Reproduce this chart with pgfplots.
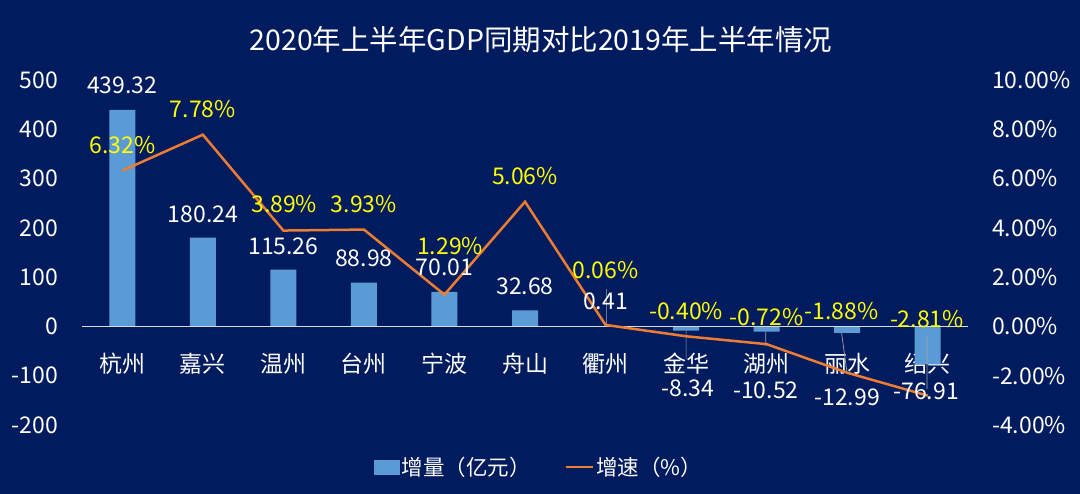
\documentclass[border=0pt]{standalone}
\usepackage{pgfplots}
\pgfplotsset{compat=1.18}
\usepackage{fontspec}
\setmainfont{Noto Sans CJK SC}
\definecolor{bg}{HTML}{001B5E}
\definecolor{barblue}{HTML}{5B9BD5}
\definecolor{lineorange}{HTML}{ED7D31}
\definecolor{lblyellow}{HTML}{FFFF00}
\definecolor{leader}{HTML}{A6A6A6}
\definecolor{zeroline}{HTML}{D9D9D9}
\newcommand{\numfont}{\fontsize{23bp}{27bp}\selectfont}

\pgfplotsset{
  frame/.style={
    at={(82bp,69bp)}, anchor=south west,
    width=886bp, height=345bp, scale only axis,
    xmin=-0.5, xmax=10.5,
    axis line style={draw=none},
    major tick length=0pt,
    tick style={draw=none},
    ticklabel style={font=\numfont, text=white},
  },
}

\begin{document}
\begin{tikzpicture}[x=1bp,y=1bp]
\fill[bg] (0,0) rectangle (1080,494);
\node[text=white, font=\fontsize{28.5bp}{32bp}\selectfont] at (541,454)
  {2020年上半年GDP同期对比2019年上半年情况};

% 增量（亿元）, left axis
\begin{axis}[frame,
  ymin=-200, ymax=500,
  xtick={0,...,10},
  xticklabels={杭州,嘉兴,温州,台州,宁波,舟山,衢州,金华,湖州,丽水,绍兴},
  xticklabel style={anchor=center, yshift=61bp},
  ytick={-200,-100,0,100,200,300,400,500},
  yticklabels={-200,-100,0,100,200,300,400,500},
  yticklabel style={anchor=east, inner sep=0pt, xshift=-24bp},
  unbounded coords=jump,
]
\addplot[ybar, bar width=26bp, fill=barblue, draw=none] coordinates {
  (0,439.32) (1,180.24) (2,115.26) (3,88.98) (4,70.01) (5,32.68)
  (6,0.41) (7,-8.34) (8,-10.52) (9,-12.99) (10,-76.91)};
\addplot[zeroline, line width=1bp] coordinates {(-0.5,0) (10.5,0)};
% leader lines of moved labels
\addplot[leader, line width=0.7bp] coordinates {
  (6.01,2) (6.01,76) (nan,nan)
  (7.0,-8.34) (7.0,-66) (nan,nan)
  (7.99,-10.52) (7.99,-40) (nan,nan)
  (8.93,-12.99) (9.0,-96) (nan,nan)
  (9.99,-20) (9.99,-127)};
\end{axis}

% 增速（%）, right axis
\begin{axis}[frame,
  ymin=-4, ymax=10,
  axis x line=none,
  axis y line*=right,
  ytick={-4,-2,0,2,4,6,8,10},
  yticklabels={-4.00\%,-2.00\%,0.00\%,2.00\%,4.00\%,6.00\%,8.00\%,10.00\%},
  yticklabel style={anchor=west, inner sep=0pt, xshift=24bp},
  legend style={at={(0.516,-0.122)}, anchor=center, draw=none, fill=none,
    text=white, font=\fontsize{21.5bp}{24bp}\selectfont, inner sep=0pt,
    /tikz/every even column/.append style={column sep=32bp}},
  legend columns=2,
]
\addlegendimage{legend image code/.code={\fill[barblue] (0bp,-7bp) rectangle (25bp,7bp);}}
\addlegendentry{增量（亿元）}
\addplot[lineorange, line width=2.5bp,
  legend image code/.code={\draw[lineorange, line width=2.5bp] (0bp,0bp) -- (27bp,0bp);}]
  coordinates {
  (0,6.32) (1,7.78) (2,3.89) (3,3.93) (4,1.29) (5,5.06)
  (6,0.06) (7,-0.40) (8,-0.72) (9,-1.88) (10,-2.81)};
\addlegendentry{增速（\%）}
% value labels of the bars (placed as in the reference)
\addplot[draw=none, mark=none, nodes near coords, point meta=explicit symbolic,
  every node near coord/.append style={anchor=center, inner sep=0pt, text=white, font=\numfont}]
  coordinates {
  (0,9.80)[439.32] (1,4.56)[180.24] (2,3.26)[115.26] (3,2.78)[88.98]
  (4,2.38)[70.01] (5,1.64)[32.68] (6,1.00)[0.41] (7.02,-2.50)[-8.34]
  (7.99,-2.58)[-10.52] (9.0,-2.88)[-12.99] (9.98,-2.64)[-76.91]};
% value labels of the line
\addplot[draw=none, mark=none, nodes near coords, point meta=explicit symbolic,
  every node near coord/.append style={anchor=center, inner sep=0pt, text=lblyellow, font=\numfont}]
  coordinates {
  (0,7.34)[6.32\%] (1,8.82)[7.78\%] (2.01,4.96)[3.89\%] (3,4.96)[3.93\%]
  (4.07,3.26)[1.29\%] (5,6.10)[5.06\%] (6,2.30)[0.06\%] (7,0.64)[-0.40\%]
  (8,0.38)[-0.72\%] (8.93,0.64)[-1.88\%] (9.99,0.30)[-2.81\%]};
\end{axis}
\pgfresetboundingbox
\useasboundingbox (0,0) rectangle (1080,494);
\end{tikzpicture}
\end{document}
